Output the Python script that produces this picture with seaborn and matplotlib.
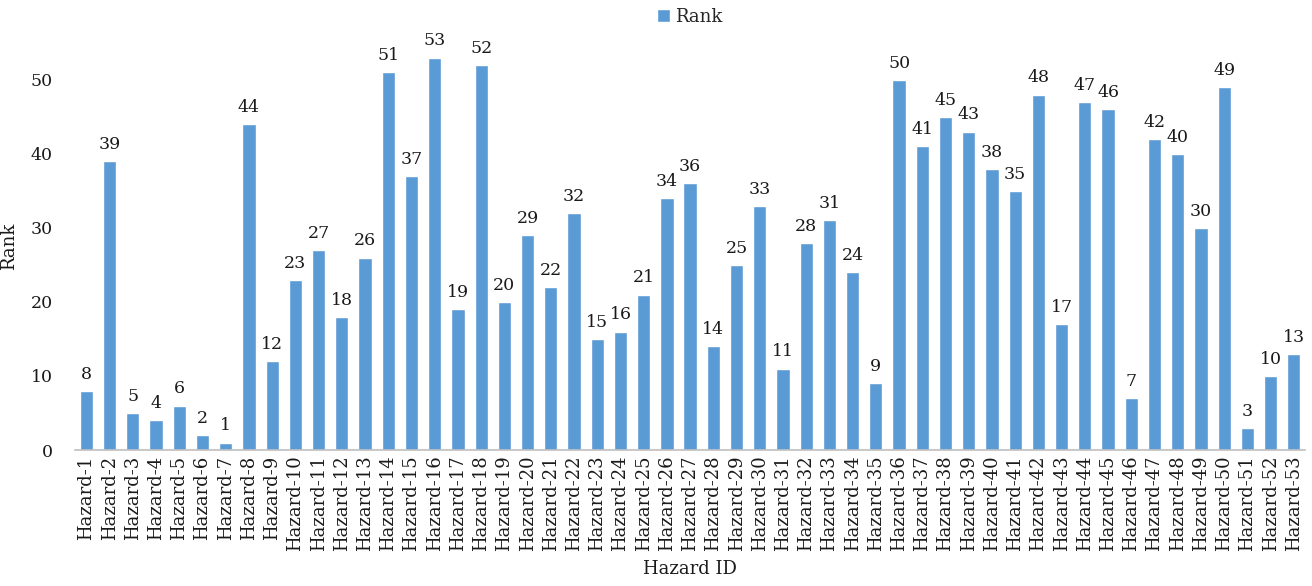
import numpy as np
import pandas as pd
import matplotlib
matplotlib.use("Agg")
import matplotlib.pyplot as plt
import seaborn as sns

# ── data ──
hazard_ids = [f"Hazard-{i}" for i in range(1, 54)]
ranks = [8, 39, 5, 4, 6, 2, 1, 44, 12, 23, 27, 18, 26, 51, 37, 53, 19, 52,
         20, 29, 22, 32, 15, 16, 21, 34, 36, 14, 25, 33, 11, 28, 31, 24, 9,
         50, 41, 45, 43, 38, 35, 48, 17, 47, 46, 7, 42, 40, 30, 49, 3, 10, 13]
y_ticks = [0, 10, 20, 30, 40, 50]

BAR_COLOR = "#5B9BD5"
TEXT_COLOR = "#1a1a1a"

sns.set_theme(style="white")
plt.rcParams["font.family"] = ["DejaVu Serif"]

df = pd.DataFrame({"Hazard ID": hazard_ids, "Rank": ranks})

fig = plt.figure(figsize=(13.12, 5.86), dpi=100)
ax = fig.add_axes([0.057, 0.232, 0.938, 0.695])

sns.barplot(data=df, x="Hazard ID", y="Rank", color=BAR_COLOR,
            width=0.57, saturation=1, ax=ax, label="Rank")

# value labels above bars
for bar, val in zip(ax.patches, ranks):
    ax.text(bar.get_x() + bar.get_width() / 2, bar.get_height() + 1.1,
            str(val), ha="center", va="bottom", fontsize=12.5, color=TEXT_COLOR)

ax.set_ylim(0, 55)
ax.set_xlim(-0.5, len(ranks) - 0.5)
ax.set_yticks(y_ticks)
ax.tick_params(axis="y", labelsize=12.5, colors=TEXT_COLOR, length=0, pad=16)
ax.tick_params(axis="x", labelsize=13, colors=TEXT_COLOR, length=0,
               rotation=90, pad=4)
ax.set_xlabel("Hazard ID", fontsize=13, color=TEXT_COLOR, labelpad=6)
ax.set_ylabel("Rank", fontsize=13, color=TEXT_COLOR)
ax.yaxis.set_label_coords(-0.046, 0.5)

for s in ["top", "right", "left"]:
    ax.spines[s].set_visible(False)
ax.spines["bottom"].set_color("#bfbfbf")
ax.spines["bottom"].set_linewidth(1.2)

ax.legend(loc="upper center", bbox_to_anchor=(0.5, 1.125), frameon=False,
          fontsize=13, handlelength=0.7, handleheight=0.7, handletextpad=0.3)

fig.savefig("out.png", dpi=100)
